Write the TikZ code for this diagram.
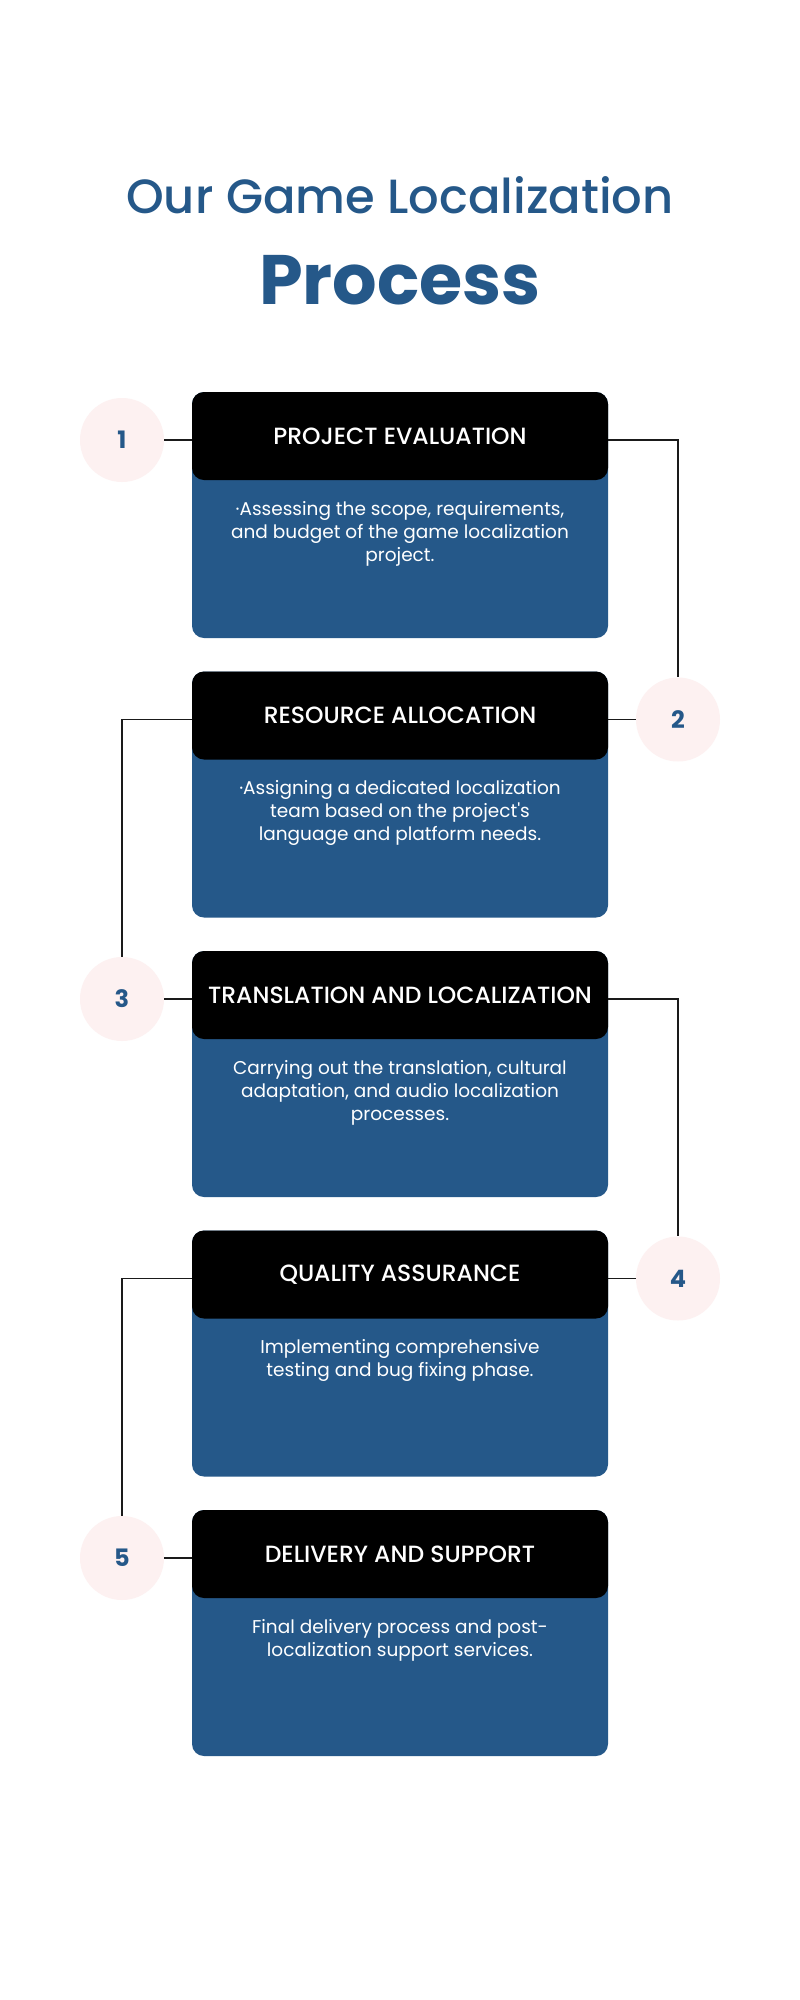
\documentclass[tikz,border=0pt]{standalone}
\usepackage{fontspec}
\setmainfont{Poppins}
\newfontfamily\medfont{Poppins Medium}
\newfontfamily\bodyfont{Poppins}
\definecolor{mainblue}{HTML}{255889}
\definecolor{pinkfill}{HTML}{FDF1F1}
\definecolor{linecol}{HTML}{1A1A1A}
\tikzset{
  x=1pt, y=-1pt,
  bodybox/.style={fill=mainblue, rounded corners=12pt, minimum width=416pt, minimum height=246pt, inner sep=0pt, draw=none},
  headbox/.style={fill=black, rounded corners=12pt, minimum width=416pt, minimum height=88pt, inner sep=0pt, text=white, font=\medfont\fontsize{23.5}{26}\selectfont},
  bodytext/.style={text=white, align=center, anchor=north, inner sep=0pt, font=\bodyfont\fontsize{18.5}{23}\selectfont},
  numcircle/.style={circle, fill=pinkfill, minimum size=84pt, inner sep=0pt, text=mainblue, font=\fontsize{24}{26}\selectfont\bfseries},
  conn/.style={draw=linecol, line width=1.6pt},
}
\begin{document}
\begin{tikzpicture}
\useasboundingbox (0,0) rectangle (800,2000);
\fill[white] (0,0) rectangle (800,2000);
\node[anchor=base, text=mainblue, font=\medfont\fontsize{48}{56}\selectfont] (title1) at (400,213) {Our Game Localization};
\node[anchor=base, text=mainblue, font=\fontsize{70}{80}\selectfont\bfseries] (title2) at (400,304) {Process};

% box 1
\node[bodybox] (b1) at (400,515) {};
\node[headbox] (h1) at (400,436) {PROJECT EVALUATION};
\node[bodytext] (t1) at (400,501) {·Assessing the scope, requirements,\\and budget of the game localization\\project.};
\node[numcircle] (c1) at (122,440) {1};

% box 2
\node[bodybox] (b2) at (400,794.5) {};
\node[headbox] (h2) at (400,715.5) {RESOURCE ALLOCATION};
\node[bodytext] (t2) at (400,780.5) {·Assigning a dedicated localization\\team based on the project\textquotesingle s\\language and platform needs.};
\node[numcircle] (c2) at (678,719.5) {2};

% box 3
\node[bodybox] (b3) at (400,1074) {};
\node[headbox] (h3) at (400,995) {TRANSLATION AND LOCALIZATION};
\node[bodytext] (t3) at (400,1060) {Carrying out the translation, cultural\\adaptation, and audio localization\\processes.};
\node[numcircle] (c3) at (122,999) {3};

% box 4
\node[bodybox] (b4) at (400,1353.5) {};
\node[headbox] (h4) at (400,1274.5) {QUALITY ASSURANCE};
\node[bodytext] (t4) at (400,1339.5) {Implementing comprehensive\\testing and bug fixing phase.};
\node[numcircle] (c4) at (678,1278.5) {4};

% box 5
\node[bodybox] (b5) at (400,1633) {};
\node[headbox] (h5) at (400,1554) {DELIVERY AND SUPPORT};
\node[bodytext] (t5) at (400,1619) {Final delivery process and post-\\localization support services.};
\node[numcircle] (c5) at (122,1558) {5};

% connectors
\draw[conn] (c1.east) -- (c1.east -| h1.west);
\draw[conn] (h1.east |- c1) -| (c2.north);
\draw[conn] (c2.west) -- (c2.west -| h2.east);
\draw[conn] (h2.west |- c2) -| (c3.north);
\draw[conn] (c3.east) -- (c3.east -| h3.west);
\draw[conn] (h3.east |- c3) -| (c4.north);
\draw[conn] (c4.west) -- (c4.west -| h4.east);
\draw[conn] (h4.west |- c4) -| (c5.north);
\draw[conn] (c5.east) -- (c5.east -| h5.west);
\end{tikzpicture}
\end{document}
